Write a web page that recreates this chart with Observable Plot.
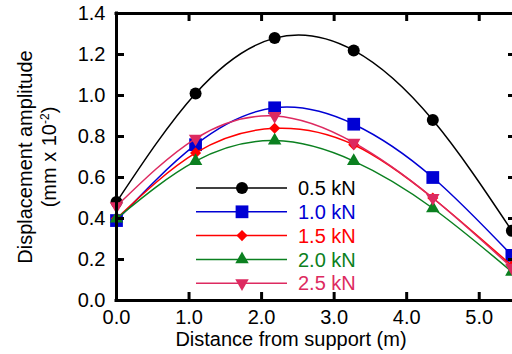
<!DOCTYPE html>
<html><head><meta charset="utf-8">
<script src="https://cdn.jsdelivr.net/npm/d3@7"></script>
<script src="https://cdn.jsdelivr.net/npm/@observablehq/plot@0.6"></script>
<style>body{margin:0;background:#fff} #chart{width:512px;height:354px}</style>
</head><body><div id="chart"></div>
<script>
// ---- data ----
const distance = [0, 1.09, 2.18, 3.27, 4.36, 5.45];
const load05 = [0.48, 1.01, 1.28, 1.22, 0.88, 0.34];
const load10 = [0.39, 0.76, 0.94, 0.86, 0.60, 0.22];
const load15 = [0.40, 0.72, 0.84, 0.76, 0.50, 0.17];
const load20 = [0.40, 0.68, 0.78, 0.68, 0.45, 0.14];
const load25 = [0.46, 0.79, 0.90, 0.77, 0.50, 0.16];
const seriesNames = ["0.5 kN", "1.0 kN", "1.5 kN", "2.0 kN", "2.5 kN"];
const xTicks = [0, 1, 2, 3, 4, 5];
const yTicks = [0, 0.2, 0.4, 0.6, 0.8, 1.0, 1.2, 1.4];

// ---- styles ----
const colors = ["#000000", "#0000d4", "#ff0000", "#0b8020", "#dd2a60"];
const triangleDown = {
  draw(ctx, size) {
    const y = -Math.sqrt(size / (Math.sqrt(3) * 3));
    ctx.moveTo(0, -y * 2);
    ctx.lineTo(-Math.sqrt(3) * y, y);
    ctx.lineTo(Math.sqrt(3) * y, y);
    ctx.closePath();
  }
};
const symbols = [d3.symbolCircle, d3.symbolSquare, d3.symbolDiamond2, d3.symbolTriangle, triangleDown];
const radii = [6, 7.2, 5, 5, 5];
const allValues = [load05, load10, load15, load20, load25];

const table = [];
allValues.forEach((vals, i) => vals.forEach((v, j) => table.push({series: seriesNames[i], idx: i, x: distance[j], y: v})));

const W = 512, H = 354, mL = 116, mT = 13, mB = 54, mR = 0;
const fw = W - mL - mR, fh = H - mT - mB;
const font = "'Liberation Sans', Arial, Helvetica, sans-serif";

const marks = [];
seriesNames.forEach((name, i) => {
  const d = table.filter(r => r.idx === i);
  marks.push(Plot.line(d, {x: "x", y: "y", stroke: colors[i], strokeWidth: 1.5, curve: "natural"}));
  marks.push(Plot.dot(d, {x: "x", y: "y", fill: colors[i], stroke: "none", symbol: symbols[i], r: radii[i]}));
});

const plot = Plot.plot({
  width: W, height: H,
  marginLeft: mL, marginTop: mT, marginBottom: mB, marginRight: mR,
  x: {domain: [0, 5.5], range: [mL, 515]},
  y: {domain: [0, 1.4]},
  style: {fontFamily: font, fontSize: "20px", color: "#000", background: "#fff"},
  marks: [
    Plot.axisX({ticks: xTicks, tickSize: 0, tickPadding: 9, tickFormat: d3.format(".1f"), label: null}),
    Plot.axisY({ticks: yTicks, tickSize: 0, tickPadding: 11, tickFormat: d3.format(".1f"), label: null}),
    ...marks,
    // inward ticks
    Plot.tickY(yTicks, {y: d => d, insetRight: fw - 8, strokeWidth: 3}),
    Plot.tickY(yTicks, {y: d => d, insetLeft: fw - 4, strokeWidth: 3}),
    Plot.tickX(xTicks, {x: d => d, insetTop: fh - 8, strokeWidth: 3}),
    Plot.tickX(xTicks, {x: d => d, insetBottom: fh - 8, strokeWidth: 3}),
    // frame lines
    Plot.ruleX([0], {strokeWidth: 3, strokeLinecap: "square"}),
    Plot.ruleY([0, 1.4], {strokeWidth: 3, strokeLinecap: "square"})
  ]
});
document.getElementById("chart").appendChild(plot);

const svg = d3.select(plot);
// legend
const lg = svg.append("g").attr("font-family", font).attr("font-size", 20).attr("text-anchor", "start");
seriesNames.forEach((name, i) => {
  const cy = 188 + i * 23.8;
  lg.append("line").attr("x1", 196).attr("x2", 287).attr("y1", cy).attr("y2", cy)
    .attr("stroke", colors[i]).attr("stroke-width", 1.5);
  lg.append("path").attr("transform", `translate(242,${cy})`)
    .attr("d", d3.symbol(symbols[i], Math.PI * radii[i] * radii[i])()).attr("fill", colors[i]);
  lg.append("text").attr("x", 298).attr("y", cy).attr("dy", "0.36em").attr("fill", colors[i]).text(name);
});
// axis titles
const t = svg.append("g").attr("font-family", font).attr("font-size", 20).attr("fill", "#000");
t.append("text").attr("x", 291).attr("y", 339).attr("dy", "0.36em").attr("text-anchor", "middle")
  .text("Distance from support (m)");
t.append("text").attr("transform", "translate(25,157) rotate(-90)").attr("dy", "0.36em").attr("text-anchor", "middle")
  .text("Displacement amplitude");
const t2 = t.append("text").attr("transform", "translate(49,157) rotate(-90)").attr("dy", "0.36em").attr("text-anchor", "middle");
t2.append("tspan").text("(mm x 10");
t2.append("tspan").attr("baseline-shift", "super").attr("font-size", 12).text("-2");
t2.append("tspan").text(")");
</script>
</body></html>
